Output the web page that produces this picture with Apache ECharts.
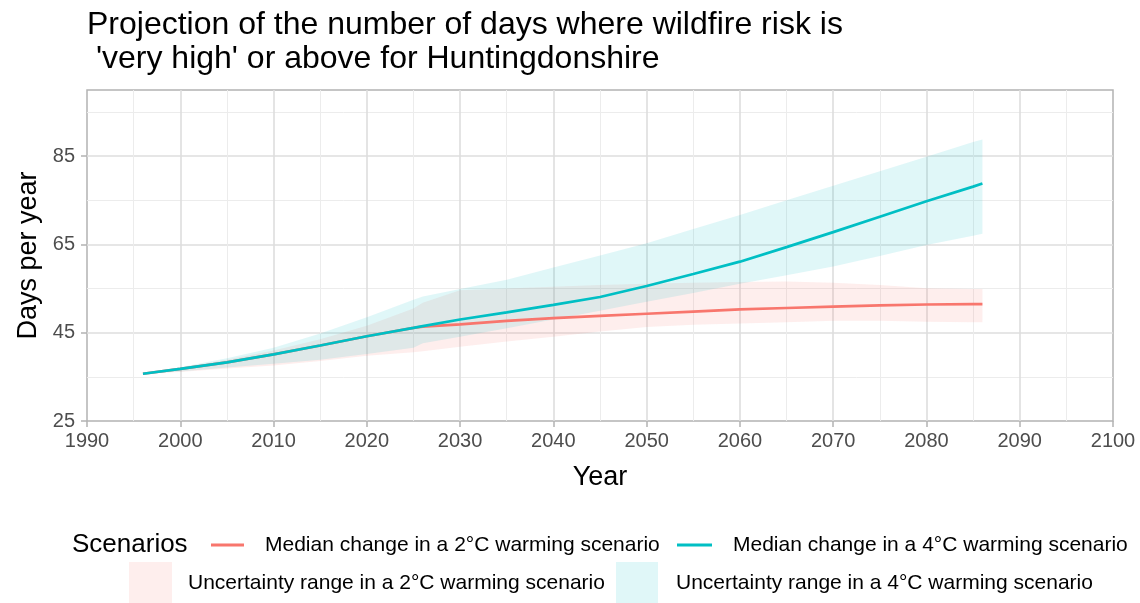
<!DOCTYPE html>
<html>
<head>
<meta charset="utf-8">
<script src="https://cdn.jsdelivr.net/npm/echarts@6/dist/echarts.min.js"></script>
<style>
  html, body { margin: 0; padding: 0; background: #ffffff; }
  #chart { width: 1140px; height: 603px; }
</style>
</head>
<body>
<div id="chart"></div>
<script>
// Projected number of days per year with 'very high' (or above) wildfire risk
const years = [1996, 2000, 2005, 2010, 2015, 2020, 2025, 2026, 2030, 2035, 2040,
               2045, 2050, 2055, 2060, 2065, 2070, 2075, 2080, 2085, 2086];

// 2°C warming scenario: median and uncertainty range
const median2 = [35.7, 36.8, 38.3, 40.1, 42.1, 44.2, 46.1, 46.4, 46.9, 47.7, 48.3,
                 48.8, 49.3, 49.8, 50.3, 50.6, 50.9, 51.2, 51.4, 51.5, 51.5];
const lower2  = [35.7, 36.1, 36.9, 37.6, 38.6, 39.8, 40.6, 40.8, 41.8, 43.0, 44.1,
                 45.3, 46.3, 46.8, 47.1, 47.4, 47.7, 47.7, 47.5, 47.4, 47.4];
const upper2  = [35.7, 37.0, 38.9, 41.0, 43.5, 46.6, 50.5, 51.8, 54.6, 55.0, 55.4,
                 55.8, 56.1, 56.3, 56.5, 56.6, 56.3, 55.8, 55.1, 54.9, 54.9];

// 4°C warming scenario: median and uncertainty range
const median4 = [35.7, 36.8, 38.3, 40.1, 42.1, 44.2, 46.1, 46.5, 48.0, 49.6, 51.3,
                 53.1, 55.6, 58.3, 61.1, 64.4, 67.8, 71.3, 74.8, 78.1, 78.8];
const lower4  = [35.7, 36.2, 37.1, 38.0, 38.9, 40.2, 41.6, 42.6, 44.1, 46.0, 48.0,
                 50.0, 52.0, 54.0, 56.1, 58.0, 60.0, 62.4, 64.9, 67.0, 67.4];
const upper4  = [35.7, 37.2, 39.2, 41.6, 44.8, 48.5, 52.5, 53.2, 54.9, 57.0, 59.8,
                 62.5, 65.3, 68.5, 71.7, 75.0, 78.3, 81.6, 84.9, 88.2, 88.8];

const yTicks = [25, 45, 65, 85];

const NAME_MED2 = 'Median change in a 2°C warming scenario';
const NAME_MED4 = 'Median change in a 4°C warming scenario';
const NAME_RNG2 = 'Uncertainty range in a 2°C warming scenario';
const NAME_RNG4 = 'Uncertainty range in a 4°C warming scenario';

const RED = '#F8766D';
const CYAN = '#00BFC4';
const RED_FILL = 'rgba(248,118,109,0.12)';
const CYAN_FILL = 'rgba(0,191,196,0.12)';
const FONT = "'Liberation Sans', Arial, Helvetica, sans-serif";
const MAJOR = '#DEDEDE';
const MINOR = '#ECECEC';
const NONE = 'rgba(0,0,0,0)';

const pairs = (vals) => years.map((x, i) => [x, vals[i]]);
// band rows keep the stacked value first so the stack runs along y
const bandRows = (vals) => years.map((x, i) => [vals[i], x]);
const spanRows = (lo, hi) => years.map((x, i) => [+(hi[i] - lo[i]).toFixed(3), x]);

function bandSeries(stackId, lo, hi, name, fill) {
  return [
    {
      name: stackId + '-base', type: 'line', stack: stackId, data: bandRows(lo),
      encode: { x: 1, y: 0 },
      symbol: 'none', silent: true, lineStyle: { width: 0, opacity: 0 },
      xAxisIndex: 0, yAxisIndex: 0
    },
    {
      name: name, type: 'line', stack: stackId, data: spanRows(lo, hi),
      encode: { x: 1, y: 0 },
      symbol: 'none', silent: true, lineStyle: { width: 0, opacity: 0 },
      itemStyle: { color: fill }, areaStyle: { color: fill, opacity: 1 },
      xAxisIndex: 0, yAxisIndex: 0
    }
  ];
}

function lineSeries(name, vals, color) {
  return {
    name: name, type: 'line', data: pairs(vals), symbol: 'none', silent: true,
    itemStyle: { color: color }, lineStyle: { color: color, width: 2.7 },
    xAxisIndex: 0, yAxisIndex: 0, z: 3
  };
}

function legendBlock(left, top, itemW, itemH, name, color, gap, lineH) {
  return {
    left: left, top: top, padding: 0, orient: 'horizontal',
    selectedMode: false, itemWidth: itemW, itemHeight: itemH,
    icon: 'rect',
    data: [{ name: name, itemStyle: { color: color, borderWidth: 0 } }],
    itemStyle: { borderWidth: 0 },
    textStyle: { fontFamily: FONT, fontSize: 21, color: '#000', padding: [0, 0, 0, gap], lineHeight: lineH }
  };
}

const chart = echarts.init(document.getElementById('chart'), null, { renderer: 'canvas' });

chart.setOption({
  animation: false,
  backgroundColor: '#ffffff',
  title: [
    {
      text: "Projection of the number of days where wildfire risk is\n 'very high' or above for Huntingdonshire",
      left: 87, top: 8, padding: 0,
      textStyle: { fontFamily: FONT, fontSize: 32, fontWeight: 'normal', color: '#000', lineHeight: 34 }
    },
    {
      text: 'Scenarios', left: 72, top: 531, padding: 0,
      textStyle: { fontFamily: FONT, fontSize: 26, fontWeight: 'normal', color: '#000', lineHeight: 28 }
    }
  ],
  legend: [
    legendBlock(211, 533, 33, 3, NAME_MED2, RED, 16, 24),
    legendBlock(677, 533, 35, 3, NAME_MED4, CYAN, 16, 24),
    legendBlock(129, 562, 43, 43, NAME_RNG2, RED_FILL, 11, 24),
    legendBlock(616, 562, 42, 43, NAME_RNG4, CYAN_FILL, 13, 24)
  ],
  grid: {
    left: 87, top: 90, width: 1026, height: 331, containLabel: false,
    show: true, borderColor: '#B3B3B3', borderWidth: 1.5, backgroundColor: NONE
  },
  xAxis: {
    type: 'value', min: 1990, max: 2100, interval: 10,
    name: 'Year', nameLocation: 'middle', nameGap: 43,
    nameTextStyle: { fontFamily: FONT, fontSize: 27, color: '#000' },
    axisLine: { show: false },
    axisTick: { show: true, length: 6, lineStyle: { color: '#B3B3B3', width: 1.5 } },
    axisLabel: { fontFamily: FONT, fontSize: 20, color: '#4D4D4D', margin: 10, formatter: (v) => String(v) },
    splitLine: { show: true, showMinLine: false, showMaxLine: false, lineStyle: { color: MAJOR, width: 1.6 } },
    minorTick: { show: false, splitNumber: 2 },
    minorSplitLine: { show: true, lineStyle: { color: MINOR, width: 1 } }
  },
  yAxis: [
    {
      type: 'value', min: 25, max: 100, interval: 20, position: 'left',
      name: 'Days per year', nameLocation: 'middle', nameGap: 40,
      nameTextStyle: { fontFamily: FONT, fontSize: 27, color: '#000' },
      axisLine: { show: false },
      axisTick: { show: true, length: 6, customValues: yTicks, lineStyle: { color: '#B3B3B3', width: 1.5 } },
      axisLabel: { fontFamily: FONT, fontSize: 20, color: '#4D4D4D', margin: 12, customValues: yTicks },
      splitLine: { show: false }
    },
    {
      // minor grid lines at 35, 55, 75, 95
      type: 'value', min: 25, max: 100, interval: 10, position: 'left',
      axisLine: { show: false }, axisTick: { show: false }, axisLabel: { show: false },
      splitLine: { show: true, lineStyle: { width: 1, color: [NONE, MINOR, NONE, MINOR, NONE, MINOR, NONE, MINOR, NONE] } }
    },
    {
      // major grid lines at 45, 65, 85
      type: 'value', min: 25, max: 100, interval: 20, position: 'left',
      axisLine: { show: false }, axisTick: { show: false }, axisLabel: { show: false },
      splitLine: { show: true, lineStyle: { width: 1.6, color: [NONE, MAJOR, MAJOR, MAJOR, NONE] } }
    }
  ],
  series: [
    ...bandSeries('range2', lower2, upper2, NAME_RNG2, RED_FILL),
    ...bandSeries('range4', lower4, upper4, NAME_RNG4, CYAN_FILL),
    lineSeries(NAME_MED2, median2, RED),
    lineSeries(NAME_MED4, median4, CYAN)
  ]
});
</script>
</body>
</html>
